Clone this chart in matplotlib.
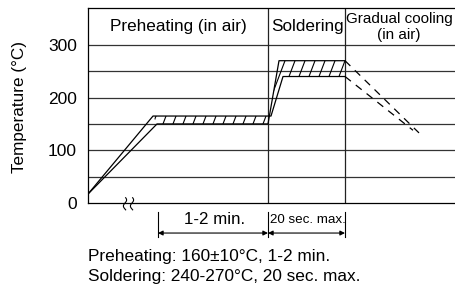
import matplotlib.pyplot as plt
import numpy as np
from matplotlib.patches import Polygon

plt.rcParams['font.family'] = ['Liberation Sans', 'DejaVu Sans']

# time axis is arbitrary (no ticks), temperature in degC
t_upper = [0, 69, 180, 191, 257]
temp_upper = [17, 150, 150, 270, 270]
t_lower = [0, 65, 183, 195, 257]
temp_lower = [17, 165, 165, 240, 240]

# cooling (dashed)
t_cool_a = [257, 331]
temp_cool_a = [270, 133]
t_cool_b = [257, 325]
temp_cool_b = [240, 138]

stage_bounds = [180, 257]
stage_names = ['Preheating (in air)', 'Soldering', 'Gradual cooling\n(in air)']
stage_centers = [90, 219, 311]

y_ticks = [0, 100, 200, 300]
grid_levels = [50, 100, 150, 200, 250, 300]

preheat_span = [70, 180]
solder_span = [180, 257]

notes = ['Preheating: 160\u00b110\u00b0C, 1-2 min.',
         'Soldering: 240-270\u00b0C, 20 sec. max.']

fig = plt.figure(figsize=(4.55, 2.90), dpi=100)
ax = fig.add_axes([88 / 455, 87 / 290, 367 / 455, 195 / 290])
ax.set_xlim(0, 367)
ax.set_ylim(0, 370)

for g in grid_levels:
    ax.axhline(g, color='#333333', lw=0.9, zorder=1)
for b in stage_bounds:
    ax.axvline(b, color='#222222', lw=0.9, zorder=1)

ax.spines['right'].set_visible(False)
for s in ['left', 'bottom', 'top']:
    ax.spines[s].set_linewidth(0.9)
ax.set_xticks([])
ax.set_yticks(y_ticks)
ax.tick_params(axis='y', length=0, pad=8, labelsize=12.5)

# profile lines
ax.plot(t_upper, temp_upper, color='black', lw=0.9, zorder=3)
ax.plot(t_lower, temp_lower, color='black', lw=0.9, zorder=3)
ax.plot(t_cool_a, temp_cool_a, color='black', lw=0.9, dashes=(6, 5), zorder=3)
ax.plot(t_cool_b, temp_cool_b, color='black', lw=0.9, dashes=(6, 5), zorder=3)

# hatched tolerance bands
bands = [(1, 3), (2, 5)]
for i, j in bands:
    pts = list(zip(t_upper[i:j], temp_upper[i:j])) + \
        list(zip(t_lower[i:j], temp_lower[i:j]))[::-1]
    poly = Polygon(pts, closed=True, facecolor='none', edgecolor='none')
    ax.add_patch(poly)
    slope = 5.0
    for x0 in np.arange(min(t_lower[i:j]) - 60, max(t_upper[i:j]) + 10, 10):
        ln, = ax.plot([x0, x0 + 400 / slope], [0, 400], color='black',
                      lw=0.8, zorder=2)
        ln.set_clip_path(poly)

# stage headers
for name, xc in zip(stage_names, stage_centers):
    fs = 11 if '\n' in name else 12.3
    ax.text(xc, 334, name, ha='center', va='center', fontsize=fs,
            linespacing=1.1, multialignment='center')

# axis break mark
yy = np.linspace(-13, 10, 40)
for xb in [37, 44]:
    ax.plot(xb + 1.6 * np.sin(np.pi * yy / 11.5), yy, color='black', lw=0.8,
            clip_on=False, zorder=4)

# time spans
y_arrow = -57
for xv in [preheat_span[0], solder_span[0], solder_span[1]]:
    ax.plot([xv, xv], [-17, -65], color='black', lw=0.8, clip_on=False)
arrow = dict(arrowstyle='<|-|>', color='black', lw=0.8,
             mutation_scale=7, shrinkA=0, shrinkB=0)
ax.annotate('', xy=(preheat_span[0], y_arrow), xytext=(preheat_span[1], y_arrow),
            arrowprops=arrow, annotation_clip=False)
ax.annotate('', xy=(solder_span[0], y_arrow), xytext=(solder_span[1], y_arrow),
            arrowprops=arrow, annotation_clip=False)
ax.text(np.mean(preheat_span) + 2, -32, '1-2 min.', ha='center', va='center',
        fontsize=12.2)
ax.text(np.mean(solder_span) + 1, -32, '20 sec. max.', ha='center', va='center',
        fontsize=9.6)

fig.text(20 / 455, 1 - 107 / 290, 'Temperature (\u00b0C)', rotation=90,
         ha='center', va='center', fontsize=12.3)

fig.text(88 / 455, 1 - 257 / 290, notes[0], ha='left', va='center', fontsize=12.4)
fig.text(88 / 455, 1 - 277 / 290, notes[1], ha='left', va='center', fontsize=12.4)

fig.savefig('out.png', dpi=100)
plt.close(fig)
